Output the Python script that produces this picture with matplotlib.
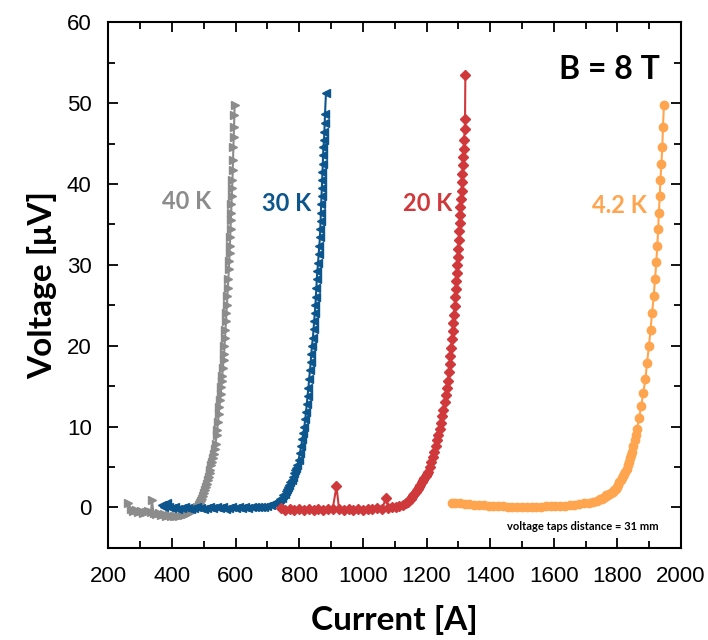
import matplotlib
matplotlib.use("Agg")
import matplotlib.pyplot as plt
from matplotlib.ticker import MultipleLocator

# 40 K
i_40 = [263, 270, 278, 286, 294, 302, 310, 318, 326, 334, 337, 342, 350, 358, 366, 374, 382, 390,
        398, 406, 414, 422, 430, 438, 446, 454, 462, 470, 478, 486, 489, 492, 495, 498, 501, 504,
        507, 510, 513, 516, 519, 521, 524, 526, 529, 531, 534, 537, 540, 542, 545, 547, 549, 551,
        553, 555, 557, 558, 560, 562, 564, 565, 567, 568, 570, 571, 573, 574, 576, 577, 579, 580,
        581, 582, 583, 584, 585, 586, 587, 588, 589, 590, 591, 592, 593, 594, 595, 596, 597]
v_40 = [0.6, -0.2, -0.4, -0.3, -0.6, -0.5, -0.7, -0.6, -0.5, -0.6, 0.9, -0.7, -0.8, -0.7, -0.9,
        -0.8, -1.0, -0.9, -1.0, -1.1, -1.0, -1.0, -0.9, -0.9, -0.8, -0.7, -0.5, -0.3, 0.0, 0.3,
        0.6, 0.8, 1.1, 1.4, 1.8, 2.1, 2.5, 2.9, 3.4, 3.8, 4.2, 4.6, 5.2, 5.6, 6.1, 6.6, 7.2, 7.9,
        8.9, 9.6, 10.6, 11.5, 12.4, 13.3, 14.0, 14.9, 15.6, 16.3, 17.3, 18.2, 19.0, 20.0, 21.0,
        22.0, 23.0, 24.1, 25.0, 26.2, 27.2, 28.2, 29.5, 30.5, 31.5, 32.3, 33.5, 34.5, 35.5, 36.4,
        37.5, 38.5, 39.5, 40.5, 41.8, 43.0, 44.6, 45.8, 47.0, 48.5, 49.8]

# 30 K
i_30 = [368, 376, 384, 392, 400, 410, 420, 430, 440, 450, 460, 470, 480, 490, 500, 510, 520, 530,
        540, 550, 560, 570, 580, 590, 600, 610, 620, 630, 640, 650, 660, 670, 680, 690, 700, 710,
        720, 730, 735, 740, 745, 750, 754, 758, 762, 765, 769, 772, 776, 780, 784, 787, 791, 794,
        798, 802, 806, 810, 813, 816, 819, 821, 824, 826, 829, 831, 834, 836, 838, 840, 843, 845,
        847, 849, 851, 852, 854, 855, 857, 859, 861, 863, 865, 866, 867, 868, 869, 870, 871, 872,
        873, 874, 875, 876, 878, 879, 880, 881, 884]
v_30 = [0.3, 0.0, 0.5, 0.1, -0.1, 0.0, -0.2, -0.1, 0.0, -0.1, -0.2, -0.1, 0.0, -0.1, -0.2, -0.1,
        0.0, -0.1, 0.0, -0.1, 0.0, -0.2, -0.1, 0.0, -0.1, 0.0, -0.1, 0.0, -0.1, 0.0, 0.0, 0.0,
        0.0, 0.1, 0.2, 0.3, 0.5, 0.7, 0.85, 1.0, 1.2, 1.5, 1.7, 2.0, 2.3, 2.5, 2.8, 3.1, 3.4,
        3.8, 4.2, 4.6, 4.9, 5.2, 5.9, 6.7, 7.6, 8.5, 9.2, 10.0, 10.9, 11.8, 12.8, 13.8, 14.8,
        15.9, 17.0, 18.0, 19.0, 20.0, 21.0, 22.1, 23.1, 24.1, 25.0, 26.0, 27.1, 28.2, 29.2,
        30.2, 31.3, 32.3, 33.4, 34.4, 35.4, 36.4, 37.5, 38.5, 39.5, 40.5, 41.5, 42.5, 43.6,
        44.6, 45.5, 46.5, 47.6, 48.7, 51.3]

# 20 K
i_20 = [742, 755, 770, 785, 800, 815, 830, 845, 860, 875, 890, 905, 917, 925, 940, 955, 970, 985,
        1000, 1015, 1030, 1045, 1060, 1073, 1080, 1092, 1104, 1115, 1125, 1134, 1141, 1146, 1150,
        1154, 1158, 1162, 1166, 1170, 1173, 1177, 1181, 1185, 1189, 1193, 1197, 1201, 1205, 1210,
        1215, 1220, 1225, 1229, 1233, 1237, 1241, 1245, 1249, 1253, 1257, 1261, 1264, 1267, 1270,
        1273, 1275, 1278, 1280, 1282, 1284, 1286, 1288, 1290, 1292, 1294, 1295, 1297, 1298, 1300,
        1301, 1303, 1304, 1305, 1306, 1308, 1310, 1312, 1313, 1315, 1316, 1317, 1318, 1320, 1321,
        1322]
v_20 = [-0.1, -0.3, -0.2, -0.3, -0.2, -0.3, -0.2, -0.3, -0.2, -0.3, -0.2, -0.2, 2.6, -0.2, -0.3,
        -0.2, -0.3, -0.2, -0.3, -0.2, -0.2, -0.1, -0.2, 1.2, -0.1, 0.0, 0.1, 0.2, 0.3, 0.5, 0.7,
        0.9, 1.1, 1.3, 1.5, 1.7, 1.9, 2.1, 2.3, 2.5, 2.8, 3.1, 3.4, 3.6, 3.9, 4.1, 4.4, 5.0, 5.6,
        6.2, 6.9, 7.6, 8.3, 9.0, 9.7, 10.5, 11.3, 12.1, 13.0, 13.9, 14.8, 15.7, 16.7, 17.7, 18.7,
        19.7, 20.8, 21.8, 22.8, 23.8, 24.9, 26.0, 27.0, 28.0, 29.0, 30.0, 31.0, 32.0, 33.1, 34.2,
        35.2, 36.2, 37.2, 38.2, 39.2, 40.2, 41.3, 42.3, 43.4, 44.4, 45.4, 46.8, 48.1, 53.5]

# 4.2 K
i_4 = [1279, 1290, 1305, 1320, 1335, 1350, 1365, 1380, 1395, 1410, 1425, 1440, 1455, 1470, 1485,
       1500, 1515, 1530, 1545, 1560, 1575, 1590, 1605, 1620, 1635, 1650, 1665, 1680, 1695, 1710,
       1722, 1735, 1745, 1750, 1755, 1760, 1765, 1770, 1775, 1780, 1785, 1790, 1794, 1798, 1802,
       1806, 1810, 1814, 1818, 1822, 1825, 1829, 1832, 1836, 1840, 1843, 1846, 1850, 1854, 1858,
       1862, 1868, 1875, 1881, 1888, 1893, 1899, 1904, 1909, 1914, 1918, 1922, 1925, 1928, 1930,
       1933, 1935, 1938, 1941, 1943, 1946]
v_4 = [0.6, 0.5, 0.5, 0.4, 0.4, 0.3, 0.3, 0.3, 0.2, 0.2, 0.2, 0.2, 0.1, 0.1, 0.1, 0.1, 0.1, 0.1,
       0.1, 0.1, 0.2, 0.2, 0.2, 0.2, 0.2, 0.3, 0.3, 0.4, 0.5, 0.6, 0.7, 0.8, 1.0, 1.1, 1.2, 1.35,
       1.5, 1.55, 1.6, 1.75, 1.9, 2.1, 2.3, 2.55, 2.8, 3.1, 3.4, 3.65, 3.9, 4.15, 4.4, 4.8, 5.2,
       5.6, 6.1, 6.5, 6.9, 7.6, 8.3, 9.0, 9.7, 11.1, 12.6, 14.2, 15.9, 17.9, 20.0, 22.0, 24.1,
       26.2, 28.2, 30.3, 32.3, 34.4, 36.4, 38.5, 40.5, 42.5, 44.6, 47.0, 49.8]

C40, C30, C20, C4 = "#8c8c8c", "#0d558d", "#d0393c", "#ffa54f"
LBL = "Lato"

fig = plt.figure(figsize=(7.08, 6.4), dpi=100)
ax = fig.add_axes([0.153, 0.144, 0.809, 0.821])

ax.plot(i_40, v_40, color=C40, marker=">", ms=6, lw=1.5)
ax.plot(i_30, v_30, color=C30, marker="<", ms=6, lw=1.5)
ax.plot(i_20, v_20, color=C20, marker="D", ms=5.5, lw=1.5)
ax.plot(i_4, v_4, color=C4, marker="o", ms=6, lw=1.5)

ax.set_xlim(200, 2000); ax.set_ylim(-5, 60)
ax.xaxis.set_major_locator(MultipleLocator(200)); ax.xaxis.set_minor_locator(MultipleLocator(100))
ax.yaxis.set_major_locator(MultipleLocator(10)); ax.yaxis.set_minor_locator(MultipleLocator(5))
ax.tick_params(which="both", direction="in", top=True, right=True, width=1.3)
ax.tick_params(which="major", length=7, labelsize=16)
ax.tick_params(axis="x", which="major", pad=13)
ax.tick_params(axis="y", which="major", pad=12)
ax.tick_params(which="minor", length=5)
for t in ax.get_xticklabels() + ax.get_yticklabels():
    t.set_family("Liberation Sans")
for s in ax.spines.values():
    s.set_linewidth(1.5)

ax.set_xlabel("Current [A]", fontsize=24, fontweight="bold", family=LBL, labelpad=13)
ax.set_ylabel("Voltage [μV]", fontsize=24, fontweight="bold", family=LBL, labelpad=7)

kw = dict(fontsize=17, fontweight="bold", family=LBL, ha="center", va="center")
ax.text(446, 37.8, "40 K", color=C40, **kw)
ax.text(761, 37.6, "30 K", color=C30, **kw)
ax.text(1203, 37.6, "20 K", color=C20, **kw)
ax.text(1805, 37.3, "4.2 K", color=C4, **kw)
ax.text(1775, 54.2, "B = 8 T", fontsize=23, fontweight="bold", family=LBL, ha="center", va="center")
ax.text(1691, -2.4, "voltage taps distance = 31 mm", fontsize=8, fontweight="bold", family=LBL,
        ha="center", va="center")

fig.savefig("out.png", dpi=100)
